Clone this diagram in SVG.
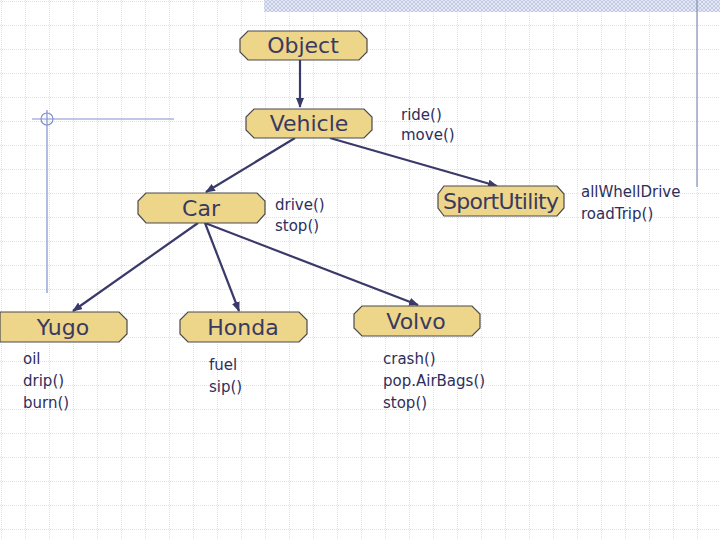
<svg xmlns="http://www.w3.org/2000/svg" width="720" height="540" viewBox="0 0 720 540">
<defs>
<pattern id="grid" width="24" height="24" patternUnits="userSpaceOnUse" x="2" y="2">
<path d="M24 0V24M0 24H24" fill="none" stroke="#c4c4cc" stroke-width="1" stroke-dasharray="1 1"/>
</pattern>
<pattern id="hatch" width="4" height="4" patternUnits="userSpaceOnUse">
<rect width="4" height="4" fill="#e4e8f4"/><path d="M0 0L4 4M4 0L0 4" stroke="#b4bedc" stroke-width="0.7"/>
</pattern>
<marker id="ah" markerWidth="10" markerHeight="8" refX="9" refY="4" orient="auto" markerUnits="userSpaceOnUse">
<path d="M0 0L10 4L0 8z" fill="#3a3a6a"/>
</marker>
<style>
.n{fill:#edd58a;stroke:#4a4a50;stroke-width:1.2}
.l{font-family:"DejaVu Sans",sans-serif;font-size:22px;fill:#3a3a60;text-anchor:middle}
.a{font-family:"DejaVu Sans",sans-serif;font-size:15px;fill:#2e2e5c}
.c{stroke:#3a3a6a;stroke-width:2.2;fill:none;marker-end:url(#ah)}
</style>
</defs>
<rect width="720" height="540" fill="#fff"/>
<rect width="720" height="540" fill="url(#grid)"/>
<rect x="264" y="0" width="456" height="12" fill="url(#hatch)"/>
<line x1="697" y1="0" x2="697" y2="187" stroke="#8090b8" stroke-width="1.2"/>
<line x1="32" y1="119" x2="174" y2="119" stroke="#8090d0" stroke-width="1.2"/>
<line x1="47" y1="110" x2="47" y2="293" stroke="#8090d0" stroke-width="1.2"/>
<circle cx="47" cy="119" r="6" fill="none" stroke="#8090d0" stroke-width="1.2"/>
<g id="connectors">
<path class="c" d="M300 60V107"/>
<path class="c" d="M295 138L206 192"/>
<path class="c" d="M330 138L497 186"/>
<path class="c" d="M198 223L73 311"/>
<path class="c" d="M205 223L239 311"/>
<path class="c" d="M205 223L418 305"/>
</g>
<g id="object"><path class="n" d="M248 31H359L367 39V52L359 60H248L240 52V39Z"/><text class="l" x="303" y="53">Object</text></g>
<g id="vehicle"><path class="n" d="M254 109H364L372 117V130L364 138H254L246 130V117Z"/><text class="l" x="309" y="131">Vehicle</text><text class="a" x="401" y="120">ride()</text><text class="a" x="401" y="140">move()</text></g>
<g id="car"><path class="n" d="M146 193H257L265 201V214L257 223H146L138 214V201Z"/><text class="l" x="201" y="216">Car</text><text class="a" x="275" y="210">drive()</text><text class="a" x="275" y="231">stop()</text></g>
<g id="sportutility"><path class="n" d="M444 186H557L564 194V208L557 216H444L438 208V194Z"/><text class="l" x="501" y="209" textLength="116">SportUtility</text><text class="a" x="581" y="197">allWhellDrive</text><text class="a" x="581" y="219">roadTrip()</text></g>
<g id="yugo"><path class="n" d="M0 312H119L127 320V334L119 342H0Z"/><text class="l" x="63" y="335">Yugo</text><text class="a" x="23" y="364">oil</text><text class="a" x="23" y="386">drip()</text><text class="a" x="23" y="408">burn()</text></g>
<g id="honda"><path class="n" d="M188 312H299L307 320V334L299 342H188L180 334V320Z"/><text class="l" x="243" y="335">Honda</text><text class="a" x="209" y="370">fuel</text><text class="a" x="209" y="392">sip()</text></g>
<g id="volvo"><path class="n" d="M362 306H472L480 314V328L472 336H362L354 328V314Z"/><text class="l" x="416" y="329">Volvo</text><text class="a" x="383" y="364">crash()</text><text class="a" x="383" y="386">pop.AirBags()</text><text class="a" x="383" y="408">stop()</text></g>
</svg>
